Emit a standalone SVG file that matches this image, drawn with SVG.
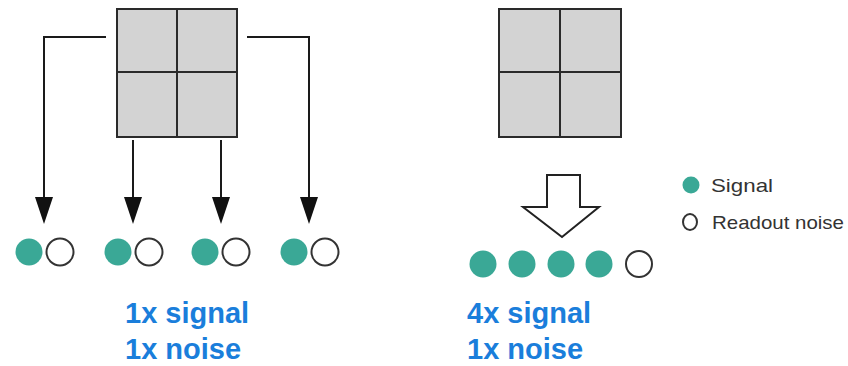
<svg xmlns="http://www.w3.org/2000/svg" width="848" height="366" viewBox="0 0 848 366">
<style>
.grid{fill:#d3d3d3;stroke:#2a2a2a;stroke-width:2}
.gl{stroke:#2a2a2a;stroke-width:2}
.conn{fill:none;stroke:#1a1a1a;stroke-width:2}
.sig{fill:#3aa896}
.noise{fill:#fff;stroke:#333;stroke-width:2}
.lbl{font-family:"Liberation Sans",Arial,sans-serif;font-weight:bold;font-size:29px;fill:#1a7edb}
.leg{font-family:"Liberation Sans",Arial,sans-serif;font-size:19px;fill:#333}
</style>
<rect width="848" height="366" fill="#fff"/>
<g id="pixel-grid-left">
<rect class="grid" x="117" y="9" width="120" height="128"/>
<line class="gl" x1="177" y1="9" x2="177" y2="137"/>
<line class="gl" x1="117" y1="72" x2="237" y2="72"/>
</g>
<g id="pixel-grid-right">
<rect class="grid" x="499" y="9" width="122" height="128"/>
<line class="gl" x1="560" y1="9" x2="560" y2="137"/>
<line class="gl" x1="499" y1="72" x2="621" y2="72"/>
</g>
<g id="connectors">
<path class="conn" d="M106,37 H44 V197"/>
<path class="conn" d="M133,140 V197"/>
<path class="conn" d="M221,140 V197"/>
<path class="conn" d="M247,37 H309 V197"/>
<path d="M35,197 L53,197 L44,224 Z" fill="#111"/>
<path d="M124,197 L142,197 L133,224 Z" fill="#111"/>
<path d="M212,197 L230,197 L221,224 Z" fill="#111"/>
<path d="M300,197 L318,197 L309,224 Z" fill="#111"/>
<path d="M547,175 H580 V207 H599 L562,237 L523,207 H547 Z" fill="#fff" stroke="#222" stroke-width="2" stroke-linejoin="miter"/>
</g>
<g id="readout-left">
<circle class="sig" cx="29" cy="252" r="13.5"/>
<circle class="noise" cx="60" cy="252" r="13.5"/>
<circle class="sig" cx="118" cy="252" r="13.5"/>
<circle class="noise" cx="149" cy="252" r="13.5"/>
<circle class="sig" cx="205" cy="252" r="13.5"/>
<circle class="noise" cx="236" cy="252" r="13.5"/>
<circle class="sig" cx="294" cy="252" r="13.5"/>
<circle class="noise" cx="325" cy="252" r="13.5"/>
</g>
<g id="readout-right">
<circle class="sig" cx="483" cy="264" r="13.5"/>
<circle class="sig" cx="522" cy="264" r="13.5"/>
<circle class="sig" cx="561" cy="264" r="13.5"/>
<circle class="sig" cx="599" cy="264" r="13.5"/>
<circle class="noise" cx="639" cy="264" r="13"/>
</g>
<g id="legend">
<circle class="sig" cx="691" cy="185" r="8.5"/>
<text class="leg" x="711" y="192" textLength="62" lengthAdjust="spacingAndGlyphs">Signal</text>
<ellipse class="noise" cx="690" cy="222" rx="7" ry="8"/>
<text class="leg" x="712" y="229" textLength="132" lengthAdjust="spacingAndGlyphs">Readout noise</text>
</g>
<g id="label-left">
<text class="lbl" x="125" y="323">1x signal</text>
<text class="lbl" x="125" y="359">1x noise</text>
</g>
<g id="label-right">
<text class="lbl" x="467" y="323">4x signal</text>
<text class="lbl" x="467" y="359">1x noise</text>
</g>
</svg>
